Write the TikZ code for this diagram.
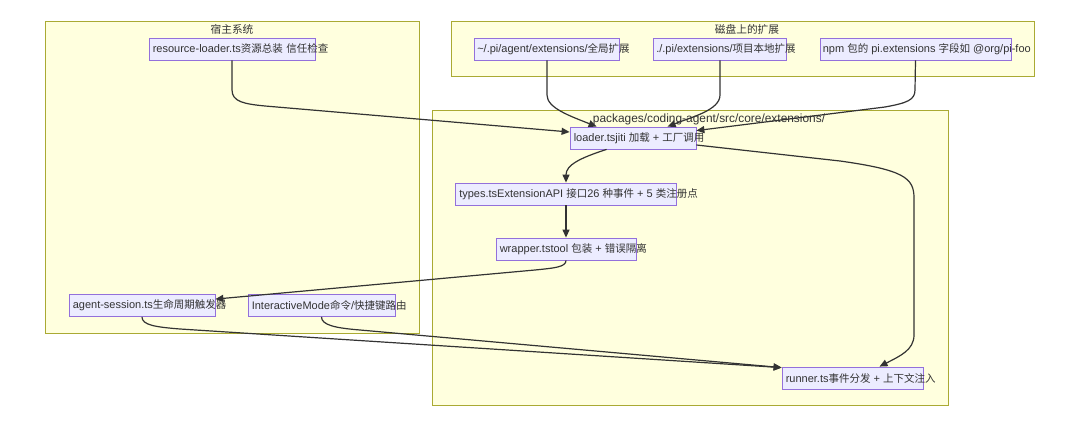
\documentclass[tikz,border=0pt]{standalone}
\usepackage{fontspec}
\setmainfont{Liberation Sans}
\newfontfamily\cjkfam{Noto Sans CJK SC}
\newcommand\zh[1]{{\fontsize{10.5}{13}\cjkfam #1}}
\usetikzlibrary{arrows.meta,calc}
\definecolor{clfill}{HTML}{FFFFDE}
\definecolor{cldraw}{HTML}{AAAA33}
\definecolor{ndfill}{HTML}{ECECFF}
\definecolor{nddraw}{HTML}{9370DB}
\definecolor{ink}{HTML}{333333}
\tikzset{
  cluster/.style={draw=cldraw, fill=clfill, line width=0.8pt, inner sep=0pt, rectangle},
  box/.style={draw=nddraw, fill=ndfill, line width=0.8pt, inner sep=0pt, minimum height=22pt, rectangle},
  txt/.style={text=ink, inner sep=0pt, font=\fontsize{11}{13}\selectfont},
  cltxt/.style={text=ink, inner sep=0pt, font=\fontsize{11.9}{13}\selectfont},
  edge/.style={draw=ink, line width=1.2pt, -{Triangle[length=8pt,width=7pt]}},
}
\begin{document}
\begin{tikzpicture}[x=1pt,y=-1pt]
\useasboundingbox (0,0) rectangle (1080,427);
\fill[white] (0,0) rectangle (1080,427);
% clusters
\node[cluster, minimum width=374pt, minimum height=312pt] (host) at (232,177) {};
\node[cluster, minimum width=583pt, minimum height=55pt] (disk) at (742.5,48.5) {};
\node[cluster, minimum width=516pt, minimum height=295pt] (pkg) at (690,257.5) {};
\node[cltxt] (hostl) at (232,29.5) {{\fontsize{10.7}{13}\cjkfam 宿主系统}};
\node[cltxt] (diskl) at (747,29.5) {{\fontsize{10.7}{13}\cjkfam 磁盘上的扩展}};
\node[cltxt] (pkgl) at (709,119) {packages/coding-agent/src/core/extensions/};
% boxes
\node[box, minimum width=166pt] (rl) at (232,49) {};
\node[box, minimum width=145pt] (glob) at (547,49) {};
\node[box, minimum width=133pt] (proj) at (720,49) {};
\node[box, minimum width=191pt] (npm) at (915.5,49) {};
\node[box, minimum width=126pt] (loader) at (633,138) {};
\node[box, minimum width=221pt] (types) at (566,194) {};
\node[box, minimum width=140pt] (wrap) at (566,249) {};
\node[box, minimum width=146pt] (as) at (142,305.5) {};
\node[box, minimum width=147pt] (im) at (321.5,305.5) {};
\node[box, minimum width=141pt] (runner) at (852.5,378) {};
% texts
\node[txt, anchor=west] (rlt) at ([xshift=4pt]rl.west) {resource-loader.ts\zh{资源总装}\hspace{3.5pt}\zh{信任检查}};
\node[txt, anchor=west] (globt) at ([xshift=3pt]glob.west) {\textasciitilde/.pi/agent/extensions/\zh{全局扩展}};
\node[txt, anchor=west] (projt) at ([xshift=3pt]proj.west) {./.pi/extensions/\zh{项目本地扩展}};
\node[txt, anchor=west] (npmt) at ([xshift=3pt]npm.west) {npm \zh{包的} pi.extensions \zh{字段如} @org/pi-foo};
\node[txt, anchor=west] (loadert) at ([xshift=4pt]loader.west) {loader.tsjiti \zh{加载} + \zh{工厂调用}};
\node[txt, anchor=west] (typest) at ([xshift=4pt]types.west) {types.tsExtensionAPI \zh{接口}26 \zh{种事件} + 5 \zh{类注册点}};
\node[txt, anchor=west] (wrapt) at ([xshift=4pt]wrap.west) {wrapper.tstool \zh{包装} + \zh{错误隔离}};
\node[txt, anchor=west] (ast) at ([xshift=4pt]as.west) {agent-session.ts\zh{生命周期触发器}};
\node[txt, anchor=west] (imt) at ([xshift=4pt]im.west) {InteractiveMode\zh{命令}/\zh{快捷键路由}};
\node[txt, anchor=west] (runnert) at ([xshift=4pt]runner.west) {runner.ts\zh{事件分发} + \zh{上下文注入}};
% edges
\draw[edge] (rl.south) -- (232,90) .. controls (232,102) and (245,104) .. (265,106) -- ($(loader.west)+(0,-6)$);
\draw[edge] (glob.south) -- (547,95) .. controls (547,108) and (570,116) .. ($(loader.north west)+(27,0)$);
\draw[edge] (proj.south) -- (720,95) .. controls (720,110) and (692,117) .. ($(loader.north west)+(98,0)$);
\draw[edge] (npm.south) -- (915,90) .. controls (915,100) and (907,103) .. (885,107) -- ($(loader.north east)+(0,4)$);
\draw[edge] ($(loader.south west)+(37,0)$) .. controls (580,158) and (566,165) .. (types.north);
\draw[edge] (types.south) -- (wrap.north);
\draw[edge] (wrap.south) .. controls (566,267) and (555,268) .. (535,270) -- ($(as.north east)+(0,5)$);
\draw[edge] ($(loader.east)+(0,7)$) -- (840,161) .. controls (904,170) and (914,178) .. (914,198) -- (914,335) .. controls (914,350) and (900,356) .. ($(runner.north)+(27,0)$);
\draw[edge] (as.south) .. controls (142,325) and (155,327) .. (180,329) -- ($(runner.north west)+(0,1)$);
\draw[edge] (im.south) .. controls (321.5,325) and (335,328) .. (360,330) -- ($(runner.north west)+(0,1)$);
\end{tikzpicture}
\end{document}
